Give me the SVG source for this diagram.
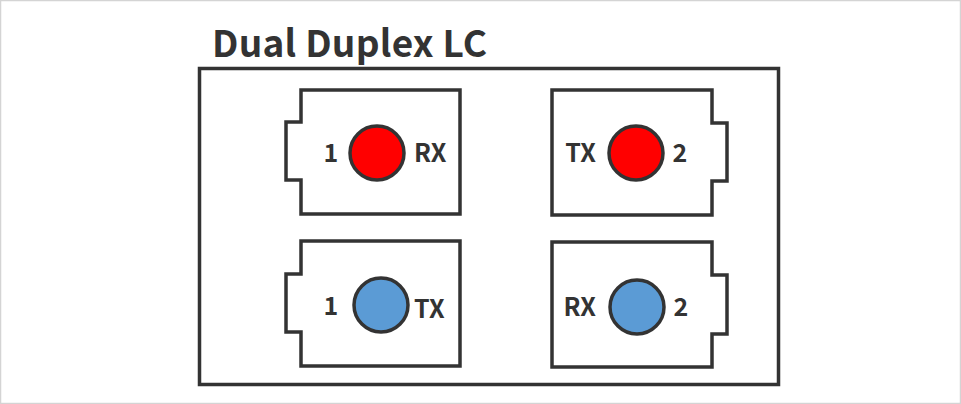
<svg xmlns="http://www.w3.org/2000/svg" width="961" height="404" viewBox="0 0 961 404">
<style>
.ln{fill:none;stroke:#333;stroke-width:3.5}
.bx{fill:#fff;stroke:#333;stroke-width:3.5}
.red{fill:#ff0000;stroke:#333;stroke-width:3.5}
.blue{fill:#5b9bd5;stroke:#333;stroke-width:3.5}
.lb{font-family:"Noto Sans CJK KR","Noto Sans",sans-serif;font-weight:bold;font-size:25px;fill:#333}
.tt{font-family:"Noto Sans CJK KR","Noto Sans",sans-serif;font-weight:bold;font-size:37px;fill:#333}
</style>
<rect x="0.5" y="0.5" width="960" height="403" fill="#fff" stroke="#d4d4d4" stroke-width="1.5"/>
<g id="title"><text class="tt" x="212" y="57" textLength="275" lengthAdjust="spacing">Dual Duplex LC</text></g>
<g id="frame"><rect class="ln" x="199.5" y="68.5" width="579" height="316"/></g>
<g id="port1-rx">
<path class="bx" d="M301 90 H460 V214 H301 V180 H286 V122 H301 Z"/>
<circle class="red" cx="377" cy="153" r="27"/>
<text class="lb" x="331" y="162" text-anchor="middle">1</text>
<text class="lb" x="414" y="162">RX</text>
</g>
<g id="port2-tx">
<path class="bx" d="M552 90 H712 V123 H727 V181 H712 V215 H552 Z"/>
<circle class="red" cx="636" cy="153" r="27"/>
<text class="lb" x="596" y="162" text-anchor="end">TX</text>
<text class="lb" x="680" y="162" text-anchor="middle">2</text>
</g>
<g id="port1-tx">
<path class="bx" d="M301 241 H460 V366 H301 V332 H286 V274 H301 Z"/>
<circle class="blue" cx="381" cy="305" r="27"/>
<text class="lb" x="331" y="315" text-anchor="middle">1</text>
<text class="lb" x="414" y="318">TX</text>
</g>
<g id="port2-rx">
<path class="bx" d="M552 242 H712 V275 H727 V334 H712 V367 H552 Z"/>
<circle class="blue" cx="637" cy="307" r="27"/>
<text class="lb" x="596" y="316" text-anchor="end">RX</text>
<text class="lb" x="681" y="316" text-anchor="middle">2</text>
</g>
<g id="connectors"></g>
</svg>
